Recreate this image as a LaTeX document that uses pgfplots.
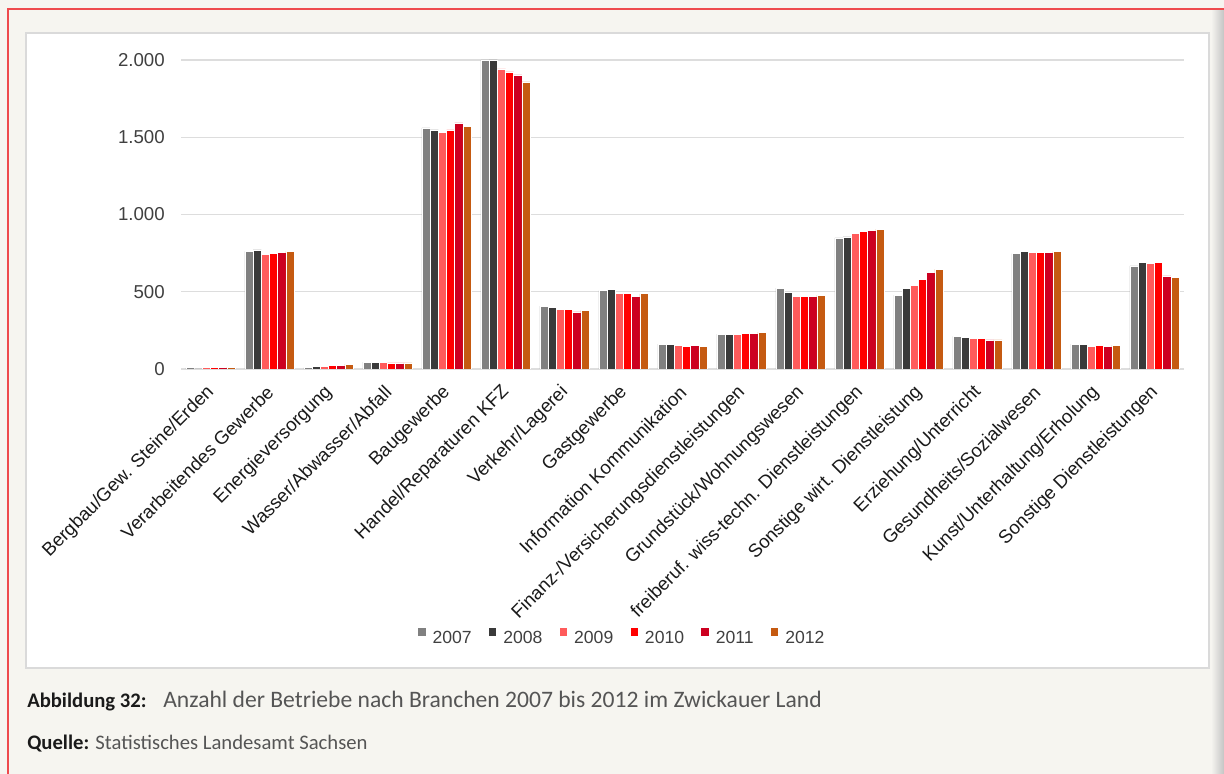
\documentclass[border=0pt]{standalone}
\usepackage{pgfplots}
\pgfplotsset{compat=1.18}
\usepackage{pgfplotstable}
\usepackage{fontspec}
\setmainfont{Liberation Sans}
\newfontfamily\calibri{Carlito}

\definecolor{c07}{HTML}{808080}
\definecolor{c08}{HTML}{3A3A3A}
\definecolor{c09}{HTML}{FF5B5B}
\definecolor{c10}{HTML}{FF0000}
\definecolor{c11}{HTML}{CC0020}
\definecolor{c12}{HTML}{C55A11}
\definecolor{pagebg}{HTML}{F6F5F0}
\definecolor{shadow}{HTML}{C4C4C4}
\definecolor{framered}{HTML}{EE4A4D}
\definecolor{boxgray}{HTML}{DADADA}
\definecolor{gridgray}{HTML}{DDDDDD}
\definecolor{tickgray}{HTML}{404040}
\definecolor{capblack}{HTML}{1A1A1A}
\definecolor{capgray}{HTML}{555555}

% Anzahl der Betriebe je Branche, 2007-2012
\pgfplotstableread{
x  y07  y08  y09  y10  y11  y12
0  8    0    10   10   10   10
1  762  771  741  747  756  762
2  9    17   17   24   24   32
3  45   45   45   39   39   39
4  1561 1548 1533 1548 1593 1570
5  2000 2000 1942 1923 1903 1858
6  407  400  385  385  370  379
7  508  517  487  487  471  487
8  161  161  155  146  155  146
9  226  226  226  232  232  239
10 523  495  471  471  471  478
11 848  855  876  891  898  906
12 478  523  543  579  624  646
13 211  205  196  196  189  189
14 747  762  756  756  756  762
15 161  161  146  155  146  155
16 667  691  682  691  603  594
}\betriebe

\pgfplotsset{sqlegend/.style={legend image code/.code={\fill[##1,draw=none] (0pt,2pt) rectangle (5.5pt,7.5pt);}}}

\begin{document}
\begin{tikzpicture}[x=0.75pt,y=0.75pt]
\useasboundingbox (0,0) rectangle (1224,774);
\fill[pagebg] (0,0) rectangle (1224,774);
\shade[left color=pagebg,right color=shadow] (1211,0) rectangle (1224,764);
\draw[framered,line width=1.6pt] (8,0) -- (8,765) -- (1224,765);
\fill[white] (26,106) rectangle (1209,741);
\draw[boxgray,line width=1.1pt] (26,106) rectangle (1209,741);
\coordinate (axorig) at (181,405);

\begin{axis}[
  at={(axorig)}, anchor=south west,
  scale only axis, width=752.25pt, height=231.75pt,
  ybar=0pt, bar width=6.15pt,
  xmin=-0.5, xmax=16.5, ymin=0, ymax=2000,
  enlargelimits=false,
  axis line style={draw=none},
  major tick length=0pt,
  ymajorgrids, grid style={gridgray, line width=1.1pt},
  ytick={0,500,1000,1500,2000},
  xtick={0,...,16},
  xticklabels={Bergbau/Gew. Steine/Erden, Verarbeitendes Gewerbe, Energieversorgung, Wasser/Abwasser/Abfall, Baugewerbe, Handel/Reparaturen KFZ, Verkehr/Lagerei, Gastgewerbe, Information Kommunikation, Finanz-/Versicherungsdienstleistungen, Grundstück/Wohnungswesen, freiberuf. wiss-techn. Dienstleistungen, Sonstige wirt. Dienstleistung, Erziehung/Unterricht, Gesundheits/Sozialwesen, Kunst/Unterhaltung/Erholung, Sonstige Dienstleistungen},
  yticklabel style={font=\fontsize{14}{16}\selectfont, text=tickgray, inner sep=0pt, xshift=-12pt,
    /pgf/number format/.cd, 1000 sep={.}, assume math mode=true},
  xticklabel style={font=\fontsize{14}{16}\selectfont, text=capblack, inner sep=0pt, xshift=0.6pt, yshift=-15.1pt, rotate=45, anchor=east},
  legend style={at={(0.439,-0.867)}, anchor=center, draw=none, fill=none,
    font=\fontsize{13.2}{15}\selectfont, text=tickgray, nodes={inner sep=0pt},
    /tikz/every odd column/.append style={column sep=5.25pt},
    /tikz/every even column/.append style={column sep=13pt}},
  legend columns=6,
]
\addplot[fill=c07, draw=white, line width=0.4pt, sqlegend] table[x=x, y=y07] {\betriebe};
\addplot[fill=c08, draw=white, line width=0.4pt, sqlegend] table[x=x, y=y08] {\betriebe};
\addplot[fill=c09, draw=white, line width=0.4pt, sqlegend] table[x=x, y=y09] {\betriebe};
\addplot[fill=c10, draw=white, line width=0.4pt, sqlegend] table[x=x, y=y10] {\betriebe};
\addplot[fill=c11, draw=white, line width=0.4pt, sqlegend] table[x=x, y=y11] {\betriebe};
\addplot[fill=c12, draw=white, line width=0.4pt, sqlegend] table[x=x, y=y12] {\betriebe};
\legend{2007,2008,2009,2010,2011,2012}
\end{axis}

\node[anchor=base west, inner sep=0pt, font=\calibri\bfseries\fontsize{15.5}{18}\selectfont, text=capblack] at (27,66) {Abbildung 32:};
\node[anchor=base west, inner sep=0pt, font=\calibri\fontsize{17.7}{20}\selectfont, text=capgray] at (163,66) {Anzahl der Betriebe nach Branchen 2007 bis 2012 im Zwickauer Land};
\node[anchor=base west, inner sep=0pt, font=\calibri\fontsize{15.5}{18}\selectfont, text=capgray] at (27,24) {\textcolor{capblack}{\bfseries Quelle:} Statistisches Landesamt Sachsen};
\end{tikzpicture}
\end{document}
